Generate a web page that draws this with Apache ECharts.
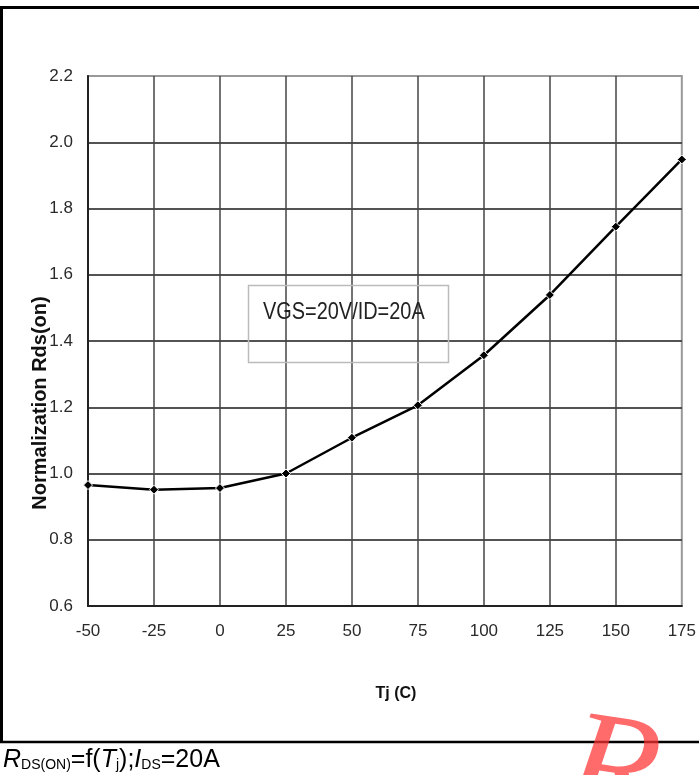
<!DOCTYPE html>
<html>
<head>
<meta charset="utf-8">
<script src="https://cdn.jsdelivr.net/npm/echarts@6/dist/echarts.min.js"></script>
<style>
html,body{margin:0;padding:0;background:#fff;}
#c{width:699px;height:775px;}
</style>
</head>
<body>
<div id="c"></div>
<script>
var tjValues = [-50, -25, 0, 25, 50, 75, 100, 125, 150, 175];
var rdsNormalized = [0.965, 0.951, 0.956, 1.0, 1.108, 1.206, 1.357, 1.539, 1.745, 1.948];
var yTicks = [0.6, 0.8, 1.0, 1.2, 1.4, 1.6, 1.8, 2.0, 2.2];
var xTicks = [-50, -25, 0, 25, 50, 75, 100, 125, 150, 175];
var yAxisTitle = 'Normalization Rds(on)';
var xAxisTitle = 'Tj (C)';
var annotationText = 'VGS=20V/ID=20A';

var sans = '"Liberation Sans", Arial, sans-serif';

var chart = echarts.init(document.getElementById('c'), null, {renderer: 'canvas'});
var seriesData = tjValues.map(function (t, i) { return [t, rdsNormalized[i]]; });

chart.setOption({
  animation: false,
  backgroundColor: '#fff',
  grid: {
    left: 88, right: 16, top: 76, bottom: 169,
    show: true, borderColor: '#999', borderWidth: 2, backgroundColor: 'transparent'
  },
  xAxis: {
    type: 'value', min: xTicks[0], max: xTicks[xTicks.length - 1], interval: 25,
    axisLine: {show: true, onZero: false, lineStyle: {color: '#222', width: 2}},
    axisTick: {show: false},
    axisLabel: {color: '#2a2a2a', fontSize: 17, fontFamily: sans, margin: 17},
    splitLine: {show: true, showMinLine: false, showMaxLine: false, lineStyle: {color: '#444', width: 1.5}}
  },
  yAxis: {
    type: 'value', min: yTicks[0], max: yTicks[yTicks.length - 1], interval: 0.2,
    axisLine: {show: true, onZero: false, lineStyle: {color: '#222', width: 2}},
    axisTick: {show: false},
    axisLabel: {color: '#2a2a2a', fontSize: 17, fontFamily: sans, margin: 15,
      formatter: function (v) { return v.toFixed(1); }},
    splitLine: {show: true, showMinLine: false, showMaxLine: false, lineStyle: {color: '#1a1a1a', width: 1.6}}
  },
  series: [{
    type: 'line',
    data: seriesData,
    smooth: false,
    symbol: 'diamond',
    symbolSize: 9,
    showSymbol: true,
    lineStyle: {color: '#000', width: 2.5},
    itemStyle: {color: '#000', borderColor: '#fff', borderWidth: 1},
    z: 5
  }],
  graphic: [
    {type: 'line', shape: {x1: 0, y1: 7.5, x2: 699, y2: 7.5}, style: {stroke: '#000', lineWidth: 3}},
    {type: 'line', shape: {x1: 1.5, y1: 7, x2: 1.5, y2: 742}, style: {stroke: '#000', lineWidth: 3}},
    {type: 'line', shape: {x1: 0, y1: 742, x2: 699, y2: 742}, style: {stroke: '#000', lineWidth: 2.5}},
    {type: 'rect', shape: {x: 248.5, y: 285.5, width: 200, height: 77},
      style: {fill: 'none', stroke: '#bbb', lineWidth: 1.5}, z: 10},
    {type: 'text', x: 263, y: 312, scaleX: 0.83, z: 11,
      style: {text: annotationText, font: '24px ' + sans, fill: '#222', verticalAlign: 'middle', align: 'left'}},
    {type: 'text', x: 40, y: 403, rotation: Math.PI / 2, z: 11,
      style: {text: yAxisTitle, font: 'bold 20px ' + sans, fill: '#111', align: 'center', verticalAlign: 'middle'}},
    {type: 'text', x: 396, y: 694, z: 11,
      style: {text: xAxisTitle, font: 'bold 16px ' + sans, fill: '#111', align: 'center', verticalAlign: 'middle'}},
    {type: 'text', x: 3, y: 760, z: 11,
      style: {
        text: '{it|R}{sub|DS(ON)}{n|=f(}{it|T}{sub|j}{n|);}{it|I}{sub|DS}{n|=20A}',
        verticalAlign: 'middle', align: 'left',
        rich: {
          n: {fontSize: 25, fontFamily: sans, color: '#000', lineHeight: 28},
          it: {fontSize: 25, fontFamily: sans, fontStyle: 'italic', color: '#000', lineHeight: 28},
          sub: {fontSize: 14, fontFamily: sans, color: '#000', padding: [11, 0, 0, 0]}
        }
      }},
    {type: 'text', x: 612, y: 776, rotation: -0.15, z: 20,
      style: {text: 'R', font: 'italic 150px "Liberation Serif", "Times New Roman", serif',
        fill: 'rgba(255,50,50,0.72)', align: 'center', verticalAlign: 'middle'}}
  ]
});
</script>
</body>
</html>
